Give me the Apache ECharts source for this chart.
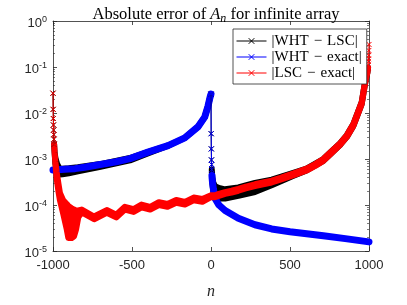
<!DOCTYPE html>
<html><head><meta charset="utf-8">
<script src="https://cdn.jsdelivr.net/npm/echarts@6/dist/echarts.min.js"></script>
<style>html,body{margin:0;padding:0;background:#fff}#c{width:407px;height:305px}</style>
</head><body><div id="c"></div>
<script>
// ---------- data ----------
var seriesNames = ['|WHT\u2004\u2212\u2004LSC|', '|WHT\u2004\u2212\u2004exact|', '|LSC\u2004\u2212\u2004exact|'];
var xTicks = [-1000, -500, 0, 500, 1000];

// |WHT - LSC| : dense band (upper / lower envelope), null = break
var blackN  = [-993, -990, -985, -975, -960, -940, -900, -842, -700, -513, -400, -272, -166, -82, -40, -19, -10, -4,
               null,
               5, 8, 15, 25, 50, 89, 173, 278, 384, 511, 605, 711, 760, 816, 860, 901, 930, 954, 970, 981, 990, 994];
var blackHi = [2.09e-3, 1.41e-3, 1.07e-3, 7.94e-4, 6.31e-4, 6.17e-4, 6.31e-4, 6.61e-4, 7.76e-4, 1.05e-3, 1.41e-3, 1.95e-3, 2.88e-3, 5.01e-3, 8.13e-3, 1.41e-2, 1.91e-2, 2.34e-2,
               null,
               5.89e-4, 3.98e-4, 3.02e-4, 2.57e-4, 2.34e-4, 2.19e-4, 2.40e-4, 3.02e-4, 3.55e-4, 4.90e-4, 6.17e-4, 1.00e-3, 1.45e-3, 2.19e-3, 3.31e-3, 5.75e-3, 1.05e-2, 1.74e-2, 3.72e-2, 6.17e-2, 8.32e-2, 9.55e-2];
var blackLo = [2.09e-3, 1.41e-3, 7.94e-4, 5.01e-4, 4.57e-4, 4.68e-4, 4.90e-4, 5.37e-4, 6.76e-4, 9.33e-4, 1.32e-3, 1.95e-3, 2.88e-3, 5.01e-3, 8.13e-3, 1.41e-2, 1.91e-2, 2.34e-2,
               null,
               5.89e-4, 3.16e-4, 1.91e-4, 1.51e-4, 1.38e-4, 1.38e-4, 1.58e-4, 1.91e-4, 2.69e-4, 4.17e-4, 5.62e-4, 9.12e-4, 1.32e-3, 2.00e-3, 3.02e-3, 5.25e-3, 9.55e-3, 1.58e-2, 3.39e-2, 5.62e-2, 7.59e-2, 9.55e-2];
// |WHT - LSC| : individually visible markers
var blackMarkN = [-1000, -999, -998, -997, -996, -995, -994, -993, null, 0, 1, 2, 3, 4, 5];
var blackMark  = [2.69e-2, 1.20e-2, 7.59e-3, 5.50e-3, 4.27e-3, 3.39e-3, 2.69e-3, 2.09e-3, null, 2.57e-2, 3.55e-3, 1.66e-3, 9.55e-4, 7.59e-4, 5.89e-4];

// |WHT - exact| : dense band
var blueN  = [-1000, -950, -900, -861, -800, -700, -600, -513, -399, -272, -166, -82, -40, -19, -10, -4, 0,
              null,
              6, 8, 10, 15, 25, 50, 89, 173, 278, 384, 500, 711, 850, 1000];
var blueV  = [5.75e-4, 5.89e-4, 6.03e-4, 6.17e-4, 6.61e-4, 7.59e-4, 8.71e-4, 1.02e-3, 1.41e-3, 1.95e-3, 2.88e-3, 5.01e-3, 8.13e-3, 1.41e-2, 1.91e-2, 2.34e-2, 2.57e-2,
              null,
              4.37e-4, 3.55e-4, 3.02e-4, 2.24e-4, 1.41e-4, 1.00e-4, 7.59e-5, 5.13e-5, 3.72e-5, 3.02e-5, 2.63e-5, 2.14e-5, 1.86e-5, 1.58e-5];
// |WHT - exact| : individually visible markers
var blueMarkN = [0, 1, 2, 3, 4, 5, 6];
var blueMark  = [2.57e-2, 3.55e-3, 1.66e-3, 9.55e-4, 7.59e-4, 5.89e-4, 4.37e-4];

// |LSC - exact| : dense band
var redN  = [-993, -990, -985, -977, -965, -956, -935, -913, -903, -882, -867, -854, -840, -818, -740, -660, -600, -545, -490, -440, -385, -330, -275, -220, -165, -110, -55, 0,
             25, 50, 89, 130, 173, 220, 278, 330, 384, 440, 500, 550, 605, 660, 711, 760, 816, 860, 901, 930, 954, 970, 981, 990, 994];
var redHi = [2.09e-3, 1.41e-3, 8.91e-4, 5.25e-4, 2.82e-4, 1.82e-4, 1.26e-4, 1.05e-4, 9.55e-5, 8.51e-5, 7.94e-5, 7.59e-5, 7.59e-5, 7.94e-5, 5.62e-5, 7.76e-5, 6.17e-5, 9.12e-5, 8.13e-5, 1.02e-4, 9.12e-5, 1.15e-4, 1.05e-4, 1.29e-4, 1.17e-4, 1.45e-4, 1.35e-4, 1.62e-4,
             1.62e-4, 1.74e-4, 1.91e-4, 2.04e-4, 2.24e-4, 2.51e-4, 2.82e-4, 3.09e-4, 3.39e-4, 3.89e-4, 4.57e-4, 5.25e-4, 6.17e-4, 7.76e-4, 1.00e-3, 1.45e-3, 2.19e-3, 3.31e-3, 5.75e-3, 1.05e-2, 1.74e-2, 3.72e-2, 6.17e-2, 8.32e-2, 9.55e-2];
var redLo = [2.09e-3, 1.41e-3, 8.32e-4, 3.80e-4, 1.91e-4, 1.26e-4, 6.31e-5, 2.95e-5, 1.91e-5, 1.91e-5, 2.09e-5, 2.95e-5, 5.37e-5, 6.92e-5, 4.90e-5, 6.76e-5, 5.37e-5, 7.94e-5, 7.08e-5, 8.91e-5, 7.94e-5, 1.00e-4, 9.12e-5, 1.12e-4, 1.02e-4, 1.26e-4, 1.17e-4, 1.48e-4,
             1.48e-4, 1.58e-4, 1.74e-4, 1.86e-4, 2.04e-4, 2.29e-4, 2.57e-4, 2.82e-4, 3.09e-4, 3.55e-4, 4.17e-4, 4.79e-4, 5.62e-4, 7.08e-4, 9.12e-4, 1.32e-3, 2.00e-3, 3.02e-3, 5.25e-3, 9.55e-3, 1.58e-2, 3.39e-2, 5.62e-2, 7.59e-2, 9.55e-2];
// |LSC - exact| : individually visible markers
var redMarkN = [-1000, -999, -998, -997, -996, -995, -994, -993, null, 994, 995, 996, 997, 998, 999, 1000];
var redMark  = [2.69e-2, 1.20e-2, 7.59e-3, 5.50e-3, 4.27e-3, 3.39e-3, 2.69e-3, 2.09e-3, null, 9.55e-2, 0.112, 0.132, 0.151, 0.178, 0.229, 0.309];

// ---------- chart ----------
var colors = ['#000000', '#0000ff', '#ff0000'];
var AX = '#262626';
var SANS = 'Liberation Sans, Arial, sans-serif';
var SERIF = 'Liberation Serif, Times New Roman, serif';
var xSymbol = 'path://M0,0L10,10M10,0L0,10';

function pairs(ns, vs) {
  return ns.map(function (n, i) { return [n, vs[i]]; });
}
function bandRender(ns, hi, lo, color, width) {
  return function (params, api) {
    if (params.dataIndex !== 0) return null;
    var children = [], top = [], bot = [];
    function flush() {
      if (top.length) {
        children.push({
          type: 'polygon',
          shape: { points: top.concat(bot.reverse()) },
          style: { fill: color, stroke: color, lineWidth: width, lineJoin: 'round' }
        });
      }
      top = []; bot = [];
    }
    for (var i = 0; i < ns.length; i++) {
      if (ns[i] === null) { flush(); continue; }
      top.push(api.coord([ns[i], hi[i]]));
      bot.push(api.coord([ns[i], lo[i]]));
    }
    flush();
    return { type: 'group', children: children };
  };
}
function markSeries(name, ns, vs, color) {
  return {
    name: name, type: 'line', z: 3, clip: false,
    data: pairs(ns, vs),
    symbol: xSymbol, symbolSize: 5,
    lineStyle: { color: color, width: 1 },
    itemStyle: { color: color, borderColor: color, borderWidth: 1 },
    connectNulls: false, animation: false
  };
}
function bandSeries(name, ns, hi, lo, color, width) {
  return {
    name: name, type: 'custom', z: 2, silent: true,
    renderItem: bandRender(ns, hi, lo, color, width),
    data: [[ns[0], hi[0]]], animation: false
  };
}

var yAxisBase = {
  type: 'log', logBase: 10, min: 1e-5, max: 1,
  axisLine: { show: true, onZero: false, lineStyle: { color: AX, width: 0.8 } },
  axisTick: { show: true, inside: true, length: 4, lineStyle: { color: AX, width: 0.8 } },
  minorTick: { show: true, splitNumber: 9, length: 2, lineStyle: { color: AX, width: 0.6 } },
  splitLine: { show: false }, minorSplitLine: { show: false }
};
var xAxisBase = {
  type: 'value', min: -1000, max: 1000, interval: 500,
  axisLine: { show: true, onZero: false, lineStyle: { color: AX, width: 0.8 } },
  axisTick: { show: true, inside: true, length: 4, lineStyle: { color: AX, width: 0.8 } },
  splitLine: { show: false }
};

var chart = echarts.init(document.getElementById('c'), null, { renderer: 'canvas' });
chart.setOption({
  animation: false,
  backgroundColor: '#ffffff',
  title: {
    text: 'Absolute error of {i|A}{s|n} for infinite array',
    left: 211, top: 1, textAlign: 'center',
    textStyle: {
      fontFamily: SERIF, fontSize: 16.5, fontWeight: 'normal', color: '#000', lineHeight: 18,
      rich: {
        i: { fontFamily: SERIF, fontStyle: 'italic', fontSize: 16.5, lineHeight: 18, color: '#000' },
        s: { fontFamily: SERIF, fontStyle: 'italic', fontSize: 12, lineHeight: 12, padding: [7, 0, 0, 0], color: '#000' }
      }
    }
  },
  legend: {
    data: seriesNames, orient: 'vertical', left: 233, top: 29,
    itemWidth: 30, itemHeight: 7, itemGap: 0,
    padding: [4, 5, 3, 3],
    borderColor: AX, borderWidth: 0.8, backgroundColor: '#fff',
    selectedMode: false,
    lineStyle: { width: 1 },
    itemStyle: { borderWidth: 1 },
    textStyle: { fontFamily: SERIF, fontSize: 15, color: '#000', lineHeight: 16 }
  },
  grid: { left: 53, right: 38, top: 21, bottom: 42, containLabel: false },
  xAxis: [
    Object.assign({}, xAxisBase, {
      position: 'bottom',
      axisLabel: { show: true, fontFamily: SANS, fontSize: 13, color: AX, margin: 8,
        formatter: function (v) { return xTicks.indexOf(v) >= 0 ? String(v) : ''; } },
      name: 'n', nameLocation: 'middle', nameGap: 33,
      nameTextStyle: { fontFamily: SERIF, fontStyle: 'italic', fontSize: 16, color: AX }
    }),
    Object.assign({}, xAxisBase, { position: 'top', axisLabel: { show: false } })
  ],
  yAxis: [
    Object.assign({}, yAxisBase, {
      position: 'left',
      axisLabel: {
        show: true, margin: 6, color: AX,
        formatter: function (v) { return '{b|10}{e|' + Math.round(Math.log10(v)) + '}'; },
        rich: {
          b: { fontFamily: SANS, fontSize: 13, lineHeight: 13, padding: [5, 0, 0, 0], color: AX },
          e: { fontFamily: SANS, fontSize: 9, lineHeight: 9, padding: [3.5, 0, 5.5, 0], color: AX }
        }
      }
    }),
    Object.assign({}, yAxisBase, { position: 'right', axisLabel: { show: false } })
  ],
  series: [
    markSeries(seriesNames[0], blackMarkN, blackMark, colors[0]),
    markSeries(seriesNames[1], blueMarkN, blueMark, colors[1]),
    markSeries(seriesNames[2], redMarkN, redMark, colors[2]),
    bandSeries(seriesNames[0], blackN, blackHi, blackLo, colors[0], 6),
    bandSeries(seriesNames[1], blueN, blueV, blueV, colors[1], 7),
    bandSeries(seriesNames[2], redN, redHi, redLo, colors[2], 6)
  ]
});
</script></body></html>
